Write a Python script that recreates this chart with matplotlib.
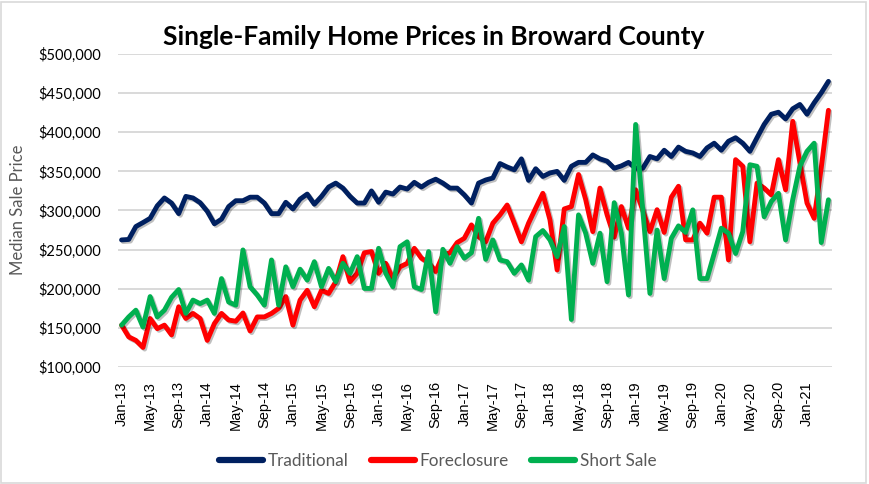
import matplotlib
matplotlib.use("Agg")
import matplotlib.pyplot as plt
import matplotlib.patheffects as pe
from matplotlib.patches import Rectangle

months = ["Jan", "Feb", "Mar", "Apr", "May", "Jun", "Jul", "Aug", "Sep", "Oct", "Nov", "Dec"]
categories = [f"{months[m]}-{13 + y}" for y in range(9) for m in range(12)][:100]

traditional = [
    262.4, 263, 279.5, 284.6, 290, 306, 316, 309.5, 296, 318,
    316, 310, 299, 283, 289, 305, 312.5, 312.5, 317, 317,
    309.5, 296, 296, 310.5, 302, 314.5, 321, 308, 318, 330,
    335, 328.6, 318, 309.5, 309.5, 325, 310.5, 323.5, 321, 330,
    327.4, 336, 330, 336, 340, 335, 328.6, 328.6, 320, 309.5,
    335, 339, 341.5, 360, 355.6, 352, 366, 338.5, 353.4, 343.5,
    348, 350, 338.5, 356.5, 361.5, 361.5, 371, 366, 363, 354,
    357, 361.5, 354, 354, 369, 366, 377, 369, 381, 375.6,
    373.5, 369, 380, 386, 377, 388.5, 393, 386, 375.6, 393,
    410, 423, 425.6, 417, 430, 435.5, 423, 437.6, 450.4, 465,
]
foreclosure = [
    153.5, 138.5, 134, 125, 162, 149, 153.5, 141, 177, 162,
    168.5, 162, 134, 155.5, 168.5, 160, 158.5, 169, 146, 164,
    164, 168.5, 175, 190, 153.5, 185.5, 198, 177, 198, 194,
    209, 241, 209, 219.7, 246, 247.5, 219.7, 232.5, 213, 228,
    232.5, 251.7, 239, 233.3, 222, 243, 246, 259, 264.5, 281.6,
    266.6, 260, 283.8, 294.4, 307, 283.8, 260, 283.8, 303, 322,
    288, 224, 302, 305, 346, 314, 273, 328.6, 294.5, 266,
    305, 277.4, 326.5, 300, 273, 301, 272, 317, 331, 262.5,
    262.4, 283.8, 271, 317, 317, 236.8, 365, 356.5, 260, 335,
    328.6, 320, 365, 326.5, 414, 361, 309.5, 290, 355, 428,
]
short_sale = [
    153.5, 164, 172.6, 151, 190, 164, 172.6, 189, 199, 168.5,
    185.5, 181, 185.5, 168.5, 213, 183, 179, 249.6, 202.5, 192,
    179, 236.8, 179, 228, 202.5, 225, 211, 234.6, 202.5, 226,
    209, 232.5, 219.7, 241, 200.4, 200.4, 251.7, 219.7, 202.5, 253.8,
    260, 202.5, 199, 247.5, 170.5, 250.4, 232.5, 253.8, 239, 246,
    290, 237.6, 262.4, 236.8, 234.6, 219.7, 230.4, 211, 266.6, 274.4,
    262.4, 241, 279.5, 160.7, 294.4, 271, 232.5, 271, 209, 310,
    271, 192, 410, 300, 194, 275, 213, 264.5, 280.4, 272,
    300.8, 213, 213, 245, 277.4, 271, 245, 273, 358.5, 356.5,
    292, 311.5, 322, 262.4, 314, 356.5, 375.6, 386, 259, 313.7,
]
series_names = ["Traditional", "Foreclosure", "Short Sale"]
series_colors = ["#002060", "#FF0000", "#00B050"]

W, H = 869, 484
fig = plt.figure(figsize=(W / 100, H / 100), dpi=100)
fig.patches.append(Rectangle((0.0015, 0.0025), 0.995, 0.993, transform=fig.transFigure,
                             fill=False, edgecolor="#D9D9D9", linewidth=1.2))
ax = fig.add_axes([118 / W, 1 - 367 / H, (832 - 118) / W, (367 - 54) / H])

x = list(range(len(categories)))
shadow = [pe.SimpleLineShadow(offset=(1.2, -1.2), alpha=0.25, shadow_color="black"), pe.Normal()]
for vals, name, col in zip([traditional, foreclosure, short_sale], series_names, series_colors):
    ax.plot(x, [v * 1000 for v in vals], color=col, lw=3.5, label=name,
            solid_joinstyle="round", solid_capstyle="round", path_effects=shadow, zorder=3)

ax.set_xlim(-0.5, len(categories) - 0.5)
ax.set_ylim(100000, 500000)
yt = list(range(100000, 500001, 50000))
ax.set_yticks(yt)
ax.set_yticklabels([f"${v:,.0f}" for v in yt], fontfamily="Lato", fontsize=10.5, color="#000000")
ax.set_xticks(x[::4])
ax.set_xticklabels(categories[::4], rotation=90, fontfamily="Liberation Sans", fontsize=10.5,
                   color="#000000")
ax.tick_params(axis="both", length=0)
ax.tick_params(axis="y", pad=12)
ax.tick_params(axis="x", pad=10)
ax.grid(axis="y", color="#D9D9D9", lw=1.4)
ax.set_axisbelow(True)
for s in ax.spines.values():
    s.set_visible(False)

fig.text(18 / W, 1 - 210 / H, "Median Sale Price", rotation=90, ha="center", va="center",
         fontfamily="Lato", fontsize=12, color="#595959")
fig.text(434 / W, 1 - 37 / H, "Single-Family Home Prices in Broward County", ha="center",
         va="center", fontfamily="Lato", fontweight="bold", fontsize=19, color="#000000")

leg = fig.legend(loc="center", bbox_to_anchor=(438 / W, 1 - 461 / H), ncol=3, frameon=False,
                 prop={"family": "Lato", "size": 12.3}, handlelength=2.55, handletextpad=0.3,
                 columnspacing=1.3)
for t in leg.get_texts():
    t.set_color("#595959")
for h in leg.legend_handles:
    h.set_linewidth(4.5)
    h.set_path_effects([])

fig.savefig("out.png", dpi=100)
